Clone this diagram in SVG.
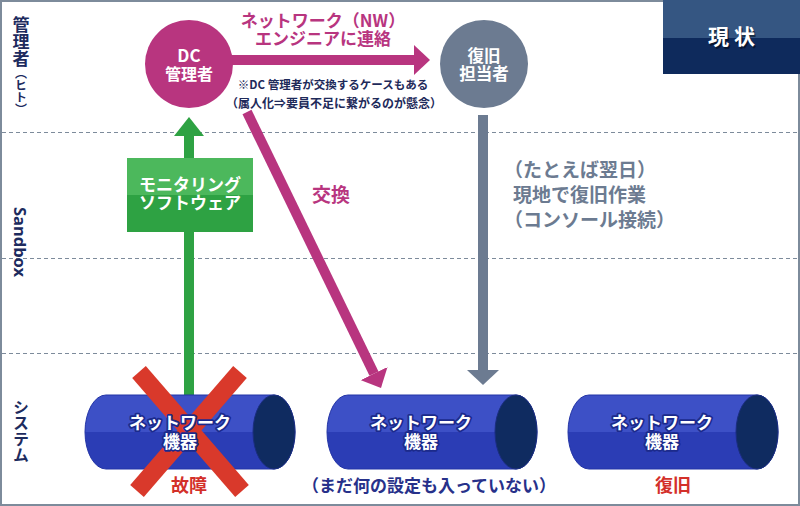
<svg xmlns="http://www.w3.org/2000/svg" xmlns:xlink="http://www.w3.org/1999/xlink" width="800" height="506" viewBox="0 0 800 506">
<style>
text{font-family:"Noto Sans CJK JP","Noto Sans",sans-serif;font-weight:bold}
.lbl{fill:#1d2b5e;font-size:17px}
.wt{fill:#fff;font-size:17px;text-anchor:middle}
.cyt{fill:#fff;font-size:17px;text-anchor:middle;stroke:#1b2a8c;stroke-width:3.5px;stroke-linejoin:round;paint-order:stroke}
.mg{fill:#b8357f}
.gy{fill:#6c7b91}
.red{fill:#d3302a;font-size:18px;text-anchor:middle}
.dash{stroke:#7d8b9b;stroke-width:1;stroke-dasharray:4 3}
.conn{fill:none;stroke-width:10}
</style>
<defs>
<linearGradient id="cylg" x1="0" y1="0" x2="0" y2="1">
<stop offset="0" stop-color="#3d50c6"/><stop offset="0.5" stop-color="#3d50c6"/>
<stop offset="0.5" stop-color="#2b3db5"/><stop offset="1" stop-color="#2b3db5"/>
</linearGradient>
<g id="cyl">
<path d="M0,-37H168A21,37 0 0 1 168,37H0A21,37 0 0 1 0,-37Z" fill="url(#cylg)" stroke="#2334a6" stroke-width="1"/>
<ellipse cx="168" cy="0" rx="21" ry="37" fill="#0f2b60" stroke="#1a2d7e" stroke-width="1"/>
</g>
<marker id="hm" markerUnits="userSpaceOnUse" viewBox="0 0 16 30" markerWidth="16" markerHeight="30" refX="0" refY="15" orient="auto"><path d="M0,0L16,15L0,30Z" fill="#b8357f"/></marker>
<marker id="hg" markerUnits="userSpaceOnUse" viewBox="0 0 19 30" markerWidth="19" markerHeight="30" refX="0" refY="15" orient="auto"><path d="M0,0L19,15L0,30Z" fill="#2ea243"/></marker>
<marker id="hy" markerUnits="userSpaceOnUse" viewBox="0 0 15 32" markerWidth="15" markerHeight="32" refX="0" refY="16" orient="auto"><path d="M0,0L15,16L0,32Z" fill="#6c7b91"/></marker>
</defs>

<rect x="0" y="0" width="800" height="506" fill="#fff"/>
<rect x="1" y="1" width="798" height="504" fill="none" stroke="#7d8b9b" stroke-width="2"/>

<g id="lanes">
<line class="dash" x1="2" y1="132.5" x2="798" y2="132.5"/>
<line class="dash" x1="2" y1="258.5" x2="798" y2="258.5"/>
<line class="dash" x1="2" y1="353.5" x2="798" y2="353.5"/>
</g>

<g id="lane-labels">
<text class="lbl" x="21" y="16" style="writing-mode:vertical-rl">管理者</text>
<text class="lbl" x="21" y="67" style="writing-mode:vertical-rl;font-size:12px">（ヒト）</text>
<text class="lbl" transform="translate(14,207) rotate(90)" x="0" y="0" style="font-family:'Noto Sans',sans-serif;font-size:16.5px">Sandbox</text>
<text class="lbl" x="21" y="399" style="writing-mode:vertical-rl;font-size:16px">システム</text>
</g>

<g id="status">
<rect x="663" y="0" width="137" height="38" fill="#355682"/>
<rect x="663" y="38" width="137" height="36" fill="#0e2a5c"/>
<text x="733" y="45.5" style="fill:#000;opacity:0.45;font-size:21px;text-anchor:middle">現 状</text>
<text x="731.5" y="44" style="fill:#fff;font-size:21px;text-anchor:middle">現 状</text>
</g>

<g id="connectors">
<path class="conn" d="M232,60H414" stroke="#b8357f" marker-end="url(#hm)"/>
<path class="conn" d="M247,112L374,373.6" stroke="#b8357f" marker-end="url(#hm)"/>
<path class="conn" d="M483,115V370" stroke="#6c7b91" marker-end="url(#hy)"/>
<path class="conn" d="M189,396V136" stroke="#2ea243" marker-end="url(#hg)"/>
</g>

<g id="connector-labels">
<text class="mg" x="323" y="27" style="font-size:17px;text-anchor:middle">ネットワーク（NW）</text>
<text class="mg" x="323" y="45" style="font-size:17px;text-anchor:middle">エンジニアに連絡</text>
<text x="333" y="89" style="fill:#1e2a5a;font-size:11.5px;text-anchor:middle">※DC 管理者が交換するケースもある</text>
<text x="334" y="108" style="fill:#1e2a5a;font-size:12px;text-anchor:middle">（属人化⇒要員不足に繋がるのが懸念）</text>
<text class="mg" x="331" y="202" style="font-size:19px;text-anchor:middle">交換</text>
<text class="gy" x="504" y="177" style="font-size:19px">（たとえば翌日）</text>
<text class="gy" x="513" y="202" style="font-size:19px">現地で復旧作業</text>
<text class="gy" x="504" y="227" style="font-size:19px">（コンソール接続）</text>
</g>

<g id="dc-admin">
<circle cx="189" cy="64" r="44" fill="#b8357f"/>
<text class="wt" x="189" y="62">DC</text>
<text class="wt" x="189" y="80" style="font-size:16px">管理者</text>
</g>

<g id="recovery-staff">
<circle cx="484" cy="64" r="44" fill="#6c7b91"/>
<text class="wt" x="484" y="62" style="font-size:16.5px">復旧</text>
<text class="wt" x="484" y="80" style="font-size:16.5px">担当者</text>
</g>

<g id="monitoring">
<rect x="127" y="158" width="126" height="37" fill="#4cb85c"/>
<rect x="127" y="195" width="126" height="37" fill="#2ea243"/>
<text class="wt" x="190" y="191">モニタリング</text>
<text class="wt" x="190" y="209">ソフトウェア</text>
</g>

<g id="device-failed">
<use xlink:href="#cyl" href="#cyl" transform="translate(106,432)"/>
<g id="fail-x" stroke="#d9392b" stroke-width="18">
<line x1="139" y1="372" x2="242" y2="491"/>
<line x1="240" y1="372" x2="137" y2="491"/>
</g>
<text class="cyt" x="180" y="429">ネットワーク</text>
<text class="cyt" x="180" y="447.5">機器</text>
<text class="red" x="189" y="492">故障</text>
</g>

<g id="device-new">
<use xlink:href="#cyl" href="#cyl" transform="translate(348,432)"/>
<text class="cyt" x="421" y="429">ネットワーク</text>
<text class="cyt" x="421" y="447.5">機器</text>
<text x="429" y="492" style="fill:#27318a;font-size:17px;text-anchor:middle">（まだ何の設定も入っていない）</text>
</g>

<g id="device-restored">
<use xlink:href="#cyl" href="#cyl" transform="translate(589,432)"/>
<text class="cyt" x="662" y="429">ネットワーク</text>
<text class="cyt" x="662" y="447.5">機器</text>
<text class="red" x="673" y="492">復旧</text>
</g>
</svg>
